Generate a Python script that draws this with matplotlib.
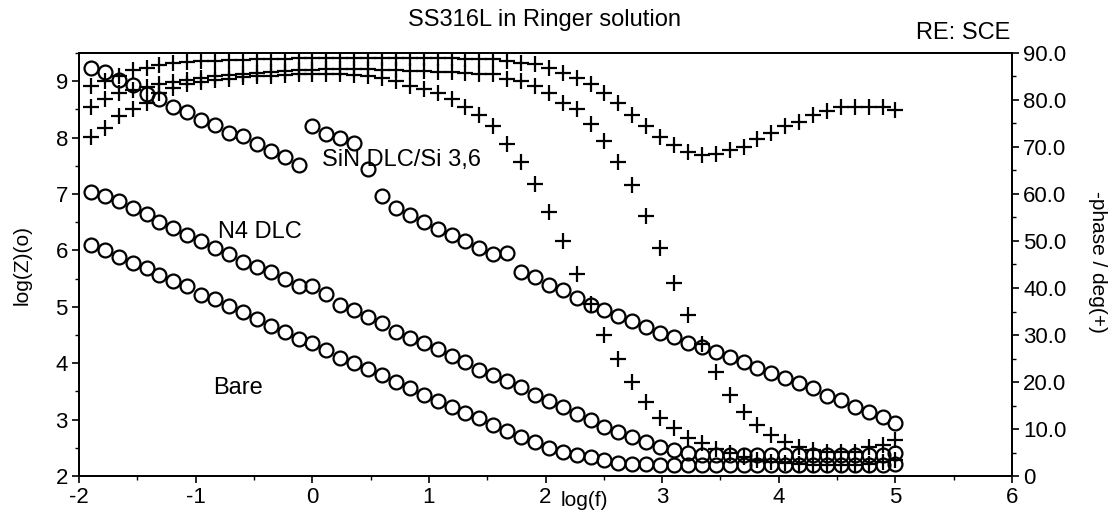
import numpy as np
import matplotlib
matplotlib.use('Agg')
import matplotlib.pyplot as plt
from matplotlib.ticker import MultipleLocator, FuncFormatter

plt.rcParams['font.family'] = ['Liberation Sans', 'DejaVu Sans']
plt.rcParams['axes.unicode_minus'] = False

# log(f) of the frequency sweep (same for all three samples)
log_f = [-1.90, -1.78, -1.66, -1.54, -1.42, -1.31, -1.19, -1.07, -0.95, -0.83,
		 -0.71, -0.59, -0.47, -0.35, -0.23, -0.11, 0.00, 0.12, 0.24, 0.36,
		 0.48, 0.60, 0.72, 0.84, 0.96, 1.08, 1.20, 1.31, 1.43, 1.55,
		 1.67, 1.79, 1.91, 2.03, 2.15, 2.27, 2.39, 2.50, 2.62, 2.74,
		 2.86, 2.98, 3.10, 3.22, 3.34, 3.46, 3.58, 3.70, 3.81, 3.93,
		 4.05, 4.17, 4.29, 4.41, 4.53, 4.65, 4.77, 4.89, 5.00]

# log|Z| (circles)
z_bare = [6.10, 6.01, 5.89, 5.78, 5.68, 5.57, 5.45, 5.36, 5.21, 5.14,
		  5.02, 4.90, 4.79, 4.66, 4.56, 4.43, 4.36, 4.24, 4.10, 4.01,
		  3.90, 3.79, 3.67, 3.56, 3.44, 3.33, 3.23, 3.12, 3.03, 2.91,
		  2.80, 2.69, 2.60, 2.50, 2.43, 2.37, 2.34, 2.28, 2.23, 2.21,
		  2.21, 2.20, 2.20, 2.20, 2.20, 2.20, 2.20, 2.19, 2.19, 2.19,
		  2.19, 2.19, 2.19, 2.19, 2.19, 2.19, 2.19, 2.20, 2.22]
z_n4 = [7.04, 6.96, 6.87, 6.76, 6.64, 6.51, 6.40, 6.28, 6.16, 6.05,
		5.93, 5.80, 5.71, 5.61, 5.50, 5.37, 5.36, 5.23, 5.04, 4.95,
		4.82, 4.72, 4.56, 4.45, 4.35, 4.26, 4.13, 4.02, 3.88, 3.79,
		3.69, 3.58, 3.44, 3.33, 3.23, 3.10, 3.00, 2.87, 2.78, 2.69,
		2.60, 2.52, 2.46, 2.41, 2.37, 2.37, 2.37, 2.37, 2.37, 2.37,
		2.37, 2.37, 2.37, 2.37, 2.37, 2.37, 2.38, 2.38, 2.40]
z_sin = [9.23, 9.16, 9.03, 8.93, 8.77, 8.68, 8.55, 8.45, 8.32, 8.22,
		 8.09, 8.02, 7.88, 7.77, 7.65, 7.52, 8.20, 8.06, 8.00, 7.90,
		 7.45, 6.96, 6.76, 6.62, 6.50, 6.38, 6.28, 6.17, 6.05, 5.94,
		 5.95, 5.62, 5.53, 5.39, 5.30, 5.16, 5.04, 4.95, 4.84, 4.74,
		 4.65, 4.54, 4.47, 4.36, 4.29, 4.20, 4.11, 4.03, 3.92, 3.83,
		 3.74, 3.65, 3.56, 3.41, 3.35, 3.23, 3.14, 3.05, 2.94]

# -phase in degrees (plus signs)
ph_bare = [72.2, 74.1, 76.5, 78.0, 79.3, 81.4, 82.5, 83.3, 83.8, 84.2,
		   84.5, 84.8, 85.0, 85.2, 85.4, 85.5, 85.6, 85.6, 85.5, 85.3,
		   85.0, 84.6, 84.0, 82.9, 82.3, 81.4, 80.3, 78.6, 76.9, 74.4,
		   70.7, 66.9, 62.2, 56.2, 50.0, 42.9, 36.5, 30.1, 24.8, 19.9,
		   15.8, 12.4, 10.3, 8.1, 7.1, 5.8, 4.8, 4.0, 3.4, 3.0,
		   2.7, 2.5, 2.4, 2.3, 2.3, 2.4, 2.6, 2.9, 3.3]
ph_n4 = [78.6, 80.3, 81.4, 82.1, 82.7, 83.3, 83.8, 84.2, 84.6, 85.0,
		 85.3, 85.6, 85.8, 86.0, 86.2, 86.3, 86.4, 86.5, 86.5, 86.5,
		 86.5, 86.4, 86.3, 86.2, 86.1, 86.0, 85.9, 85.8, 85.6, 85.5,
		 84.4, 84.0, 82.9, 81.4, 79.3, 78.0, 74.8, 71.2, 66.9, 62.0,
		 55.3, 48.5, 41.0, 34.2, 28.0, 22.2, 17.3, 13.7, 10.9, 8.8,
		 7.3, 6.2, 5.6, 5.1, 5.1, 5.1, 6.2, 6.6, 7.7]
ph_sin = [82.9, 84.0, 85.0, 86.3, 86.8, 87.4, 87.8, 88.0, 88.2, 88.4,
		  88.5, 88.6, 88.7, 88.8, 88.8, 88.9, 88.9, 89.0, 89.0, 89.0,
		  89.0, 89.0, 89.0, 89.0, 89.0, 88.9, 88.9, 88.8, 88.8, 88.7,
		  88.2, 87.8, 87.6, 86.8, 85.7, 84.6, 83.3, 81.4, 79.3, 76.9,
		  74.4, 72.2, 70.5, 69.0, 68.4, 68.6, 69.4, 70.1, 71.6, 72.9,
		  74.4, 75.4, 76.9, 77.6, 78.6, 78.6, 78.6, 78.6, 77.8]

fig = plt.figure(figsize=(11.17, 5.24), dpi=100)
ax = fig.add_axes([79/1117, 48/524, 933/1117, 423/524])
ax2 = ax.twinx()

circ = dict(marker='o', linestyle='none', markersize=10, markerfacecolor='none',
			markeredgecolor='black', markeredgewidth=1.6)
plus = dict(marker='+', linestyle='none', markersize=12, color='black', markeredgewidth=1.6)

for z in [z_bare, z_n4, z_sin]:
	ax.plot(log_f, z, **circ)
for ph in [ph_bare, ph_n4, ph_sin]:
	ax2.plot(log_f, ph, **plus)

ax.set_xlim(-2, 6)
ax.set_ylim(2, 9.5)
ax2.set_ylim(0, 90)

ax.xaxis.set_major_locator(MultipleLocator(1))
ax.xaxis.set_minor_locator(MultipleLocator(0.5))
ax.yaxis.set_major_locator(MultipleLocator(1))
ax.yaxis.set_minor_locator(MultipleLocator(0.5))
ax2.yaxis.set_major_locator(MultipleLocator(10))
ax2.yaxis.set_minor_locator(MultipleLocator(5))
ax2.yaxis.set_major_formatter(FuncFormatter(lambda v, p: '0' if v == 0 else '%.1f' % v))

for a in [ax, ax2]:
	a.tick_params(which='major', direction='out', length=5, width=1.2, labelsize=16, pad=3)
	a.tick_params(which='minor', direction='out', length=3, width=1)
	for s in a.spines.values():
		s.set_linewidth(1.3)

fig.text(545/1117, 1 - 20/524, 'SS316L in Ringer solution', fontsize=17, ha='center', va='center')
fig.text(1010/1117, 1 - 33/524, 'RE: SCE', fontsize=17, ha='right', va='center')
fig.text(22/1117, 1 - 265/524, 'log(Z)(o)', fontsize=15, rotation=90, ha='center', va='center')
fig.text(584/1117, 1 - 500/524, 'log(f)', fontsize=15, ha='center', va='center')
fig.text(1098/1117, 1 - 262/524, '-phase / deg(+)', fontsize=15, rotation=270, ha='center', va='center')

ax.text(0.08, 7.6, 'SiN DLC/Si 3,6', fontsize=17, va='center')
ax.text(-0.81, 6.32, 'N4 DLC', fontsize=17, va='center')
ax.text(-0.85, 3.56, 'Bare', fontsize=17, va='center')

fig.savefig('out.png', dpi=100)
